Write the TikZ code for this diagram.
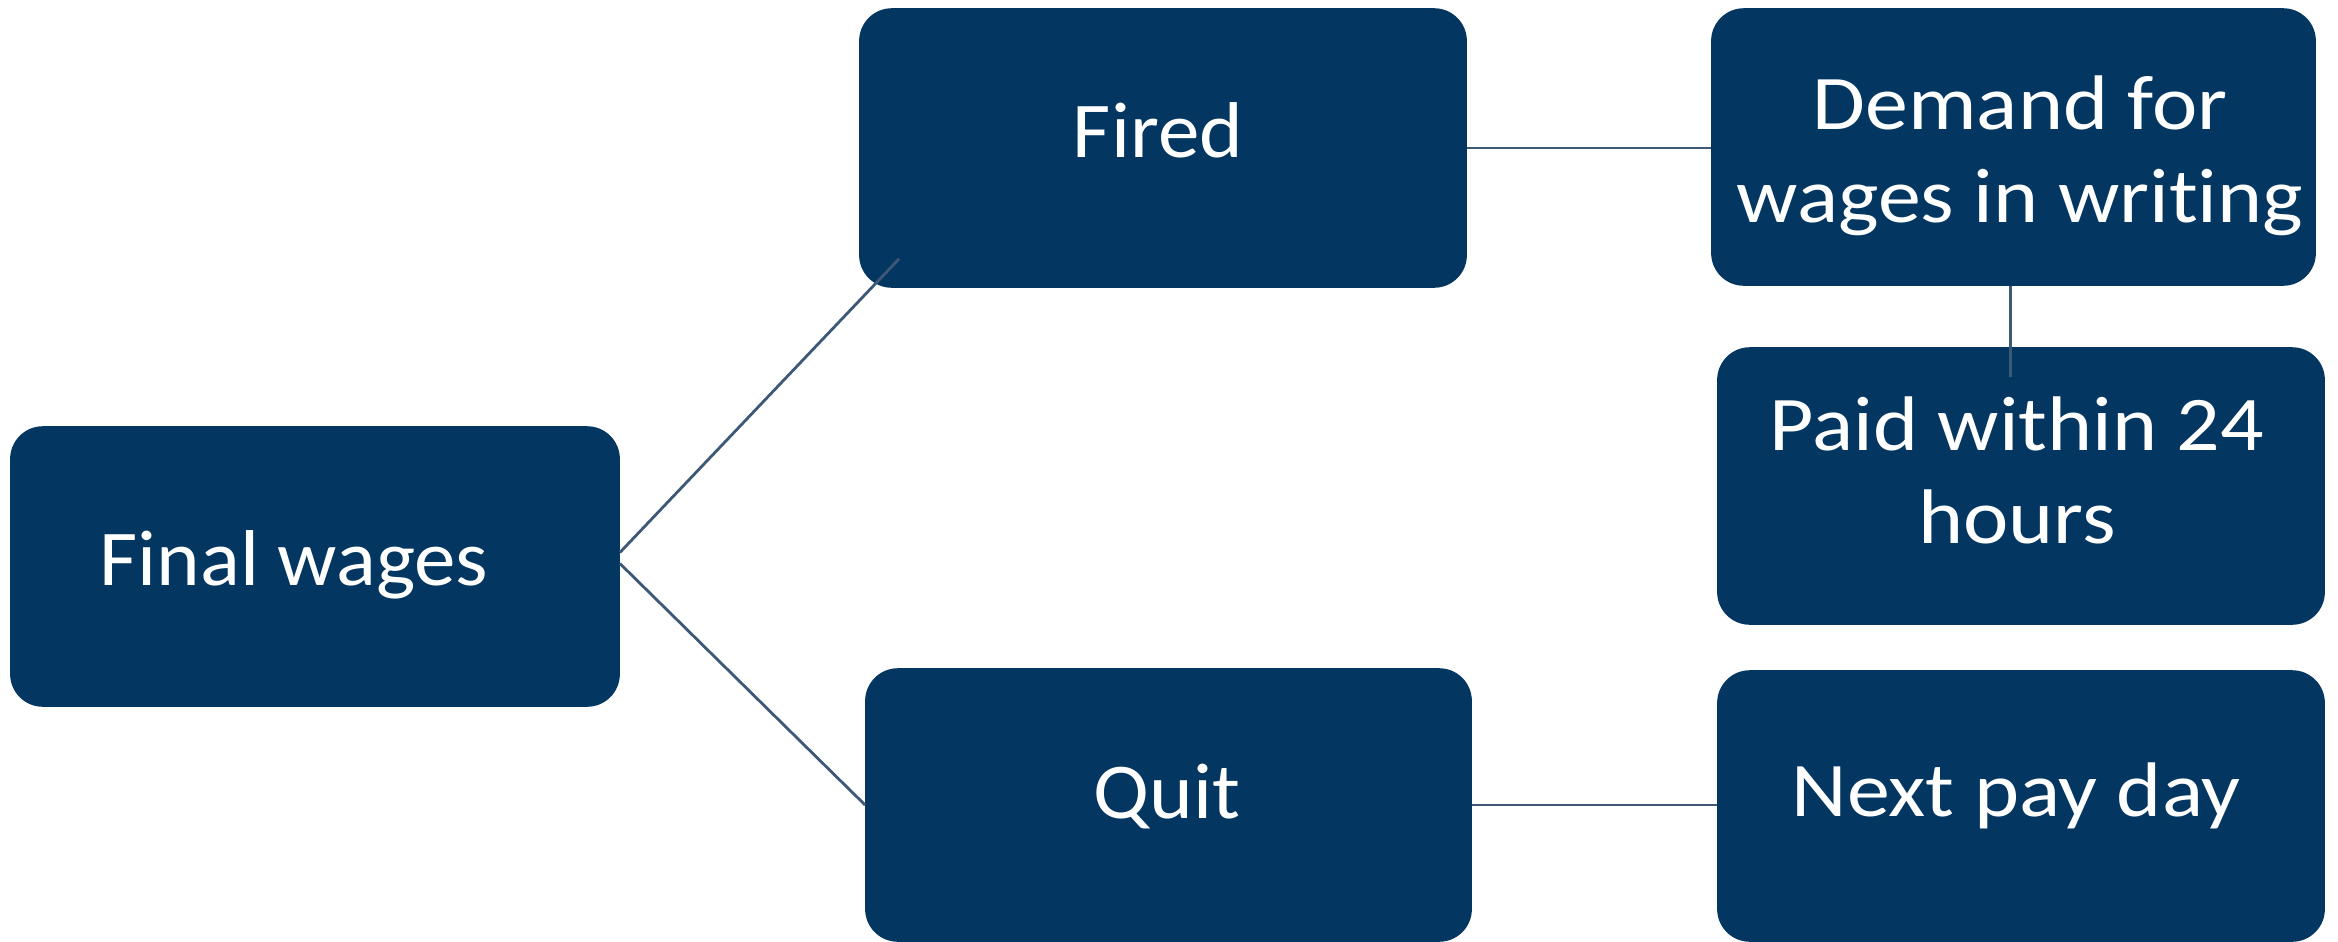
\documentclass[tikz,border=0pt]{standalone}
\usepackage{fontspec}
\setmainfont{Carlito}
\newfontfamily\leftfont[FakeStretch=1.05,RawFeature={-liga;-clig;-calt;-dlig}]{Carlito}
\newfontfamily\rightfont[FakeStretch=1.11,RawFeature={-liga;-clig;-calt;-dlig}]{Carlito}
\usetikzlibrary{calc}
\definecolor{boxfill}{RGB}{3,54,96}
\definecolor{linkcol}{RGB}{62,88,120}
\begin{document}
\begin{tikzpicture}[x=0.01cm, y=-0.01cm,
  box/.style={rectangle, rounded corners=3.2mm, fill=boxfill, draw=boxfill, inner sep=0pt},
  link/.style={draw=linkcol, line width=0.8pt},
  lbl/.style={text=white, font=\leftfont\fontsize{22.5}{27}\selectfont, anchor=base, inner sep=0pt},
  rlbl/.style={text=white, font=\rightfont\fontsize{22}{26.2}\selectfont, anchor=base, align=center, inner sep=0pt}]
\useasboundingbox (0,0) rectangle (2338,942);
\fill[white] (0,0) rectangle (2338,942);
% boxes
\node[box, minimum width=6.08cm, minimum height=2.79cm] (fw) at (315,566.5) {};
\node[box, minimum width=6.06cm, minimum height=2.78cm] (fired) at (1163,148) {};
\node[box, minimum width=6.03cm, minimum height=2.76cm] (demand) at (2013.5,147) {};
\node[box, minimum width=6.06cm, minimum height=2.76cm] (paid) at (2021,486) {};
\node[box, minimum width=6.05cm, minimum height=2.72cm] (quit) at (1168.5,805) {};
\node[box, minimum width=6.06cm, minimum height=2.70cm] (next) at (2021,806) {};
% connectors
\draw[link] ($(fw.east)+(0,-14)$) -- ($(fired.south west)+(40,-29)$);
\draw[link] ($(fw.east)+(0,-3)$) -- (quit.west);
\draw[link] (fired.east) -- (fired.east -| demand.west);
\draw[link] ($(demand.south)+(-3,0)$) -- ($(demand.south |- paid.north)+(-3,30)$);
\draw[link] (quit.east) -- (quit.east -| next.west);
% texts
\node[lbl] (tfw) at (294,585) {Final wages};
\node[lbl] (tfired) at (1158,157) {Fired};
\node[lbl] (tquit) at (1167,818) {Quit};
\node[rlbl] (tdemand) at (2020,222) {Demand for\\wages in writing};
\node[rlbl] (tpaid) at (2017,543) {Paid within 24\\hours};
\node[rlbl] (tnext) at (2016,816) {Next pay day};
\end{tikzpicture}
\end{document}
